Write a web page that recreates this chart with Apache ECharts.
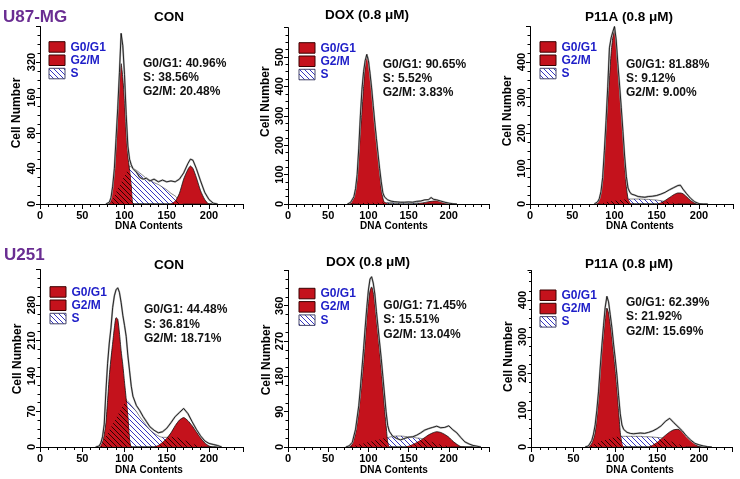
<!DOCTYPE html>
<html><head><meta charset="utf-8">
<script src="https://cdn.jsdelivr.net/npm/echarts@6/dist/echarts.min.js"></script>
<style>html,body{margin:0;padding:0;background:#fff}#c{width:740px;height:479px}</style>
</head><body><div id="c"></div>
<script>
// ---------- DATA ----------
const cellLines = ['U87-MG', 'U251'];
const treatments = ['CON', 'DOX (0.8 \u03bcM)', 'P11A (0.8 \u03bcM)'];
const phaseNames = ['G0/G1', 'G2/M', 'S'];
// percentages [G0/G1, S, G2/M]
const statsU87 = [[40.96, 38.56, 20.48], [90.65, 5.52, 3.83], [81.88, 9.12, 9.00]];
const statsU251 = [[44.48, 36.81, 18.71], [71.45, 15.51, 13.04], [62.39, 21.92, 15.69]];
const xTicks = [0, 50, 100, 150, 200];
const yTicksU87Con = ['0', '40', '80', '160', '320'];

// U87-MG CON
const xs1 = [78,82,84,86,88,90,92,94,96,98,100,102,104,106,108,110,114,118,122,126,130,135,140,145,150,155,160,165,170,175,178,181,185,190,195,200,205,210];
const g1_1 = [0,0,6,18,34,58,110,210,310,235,150,80,52,38,20,0, 0,0,0,0,0,0,0,0,0,0,0,0,0,0,0,0,0,0,0,0,0,0];
const s_1  = [0,0,2,5,9,13,17,20,24,28,31,35,38,42,41,40, 38,35,32,29,27,24,22,19,16,12,9,4, 0,0,0,0,0,0,0,0,0,0];
const g2_1 = [0,0,0,0,0,0,0,0,0,0,0,0,0,0,0,0,0,0,0,0,0,0,0,0,0, 0,3,12,28,39,42,40,30,15,5,0,0,0];
const raw_1 = [0,2,7,20,40,72,130,260,560,440,250,115,62,48,43,40, 36,30,28,29,26,28,25,27,25,26,25,28, 35,44,48,47,40,26,13,5,1,0];

// U87-MG DOX
const xs2 = [74,78,82,84,86,88,90,92,94,96,98,100,102,104,106,108,110,112,114,116,118,120,124,128,132,136,140,145,150,155,160,165,170,175,178,181,185,190,195,200,205,210];
const g1_2 = [0,4,20,45,80,155,245,320,400,470,510,490,440,388,330,272,218,162,108,50,20,5, 0,0,0,0,0,0,0,0,0,0,0,0,0,0,0,0,0,0,0,0];
const s_2  = [0,0,1,1,2,2,3,3,3,3,4,4,4,4,4,4,4,4,5,5,5,5, 5,5,5,5,5,5,5,4,4,3,2,1,1, 0,0,0,0,0,0,0];
const g2_2 = [0,0,0,0,0,0,0,0,0,0,0,0,0,0,0,0,0,0,0,0,0,0,0,0,0,0,0,0,0,0, 0,2,5,8,9,10,11,8,5,2,0,0];
const raw_2 = [0,6,25,52,100,190,300,390,450,488,508,488,445,395,335,276,222,170,120,75,38,24, 14,10,8,7,6,6,7,6,9,10,14,15,22, 16,14,10,6,3,1,0];

// U87-MG P11A
const xs3 = [76,80,82,84,86,88,90,92,94,96,98,100,102,104,106,108,110,112,114,116,118,120,124,128,132,136,140,145,150,155,160,165,170,175,178,181,185,190,195,200,205,210];
const g1_3 = [0,5,12,30,65,130,205,285,355,425,470,490,450,378,320,258,190,115,50,15,4,0, 0,0,0,0,0,0,0,0,0,0,0,0,0,0,0,0,0,0,0,0];
const s_3  = [0,0,1,2,3,4,5,6,7,8,8,9,10,11,11,12,12,13,13,14,14,14, 14,14,14,13,13,12,11,9,7,5,3,1,0, 0,0,0,0,0,0,0];
const g2_3 = [0,0,0,0,0,0,0,0,0,0,0,0,0,0,0,0,0,0,0,0,0,0,0,0,0,0,0,0, 0,3,10,18,26,31,31,29,21,10,3,0,0,0];
const raw_3 = [0,6,15,35,75,150,235,330,440,468,485,500,462,395,335,272,205,135,78,45,34,28, 25,21,20,19,21,22,24,28,33,40,46,52,53, 42,30,16,6,1,0,0];

// U251 CON
const xs4 = [66,70,72,74,76,78,80,82,84,86,88,90,92,94,96,98,100,102,104,106,108,110,114,118,122,126,130,135,140,145,150,155,160,165,170,175,180,185,190,195,200,205,210,215];
const g1_4 = [0,0,3,10,25,48,92,140,175,205,235,255,252,225,190,162,128,95,60,15,0,0, 0,0,0,0,0,0,0,0,0,0,0,0,0,0,0,0,0,0,0,0,0,0];
const s_4  = [0,0,3,9,15,21,27,33,39,45,51,57,63,69,75,81,87,93,90,86,82,78, 70,60,51,42,34,27,22,19,19,20,20,17,14,11,7,4,2, 0,0,0,0,0];
const g2_4 = [0,0,0,0,0,0,0,0,0,0,0,0,0,0,0,0,0,0,0,0,0,0,0,0,0,0,0, 0,3,9,17,28,42,53,58,52,42,30,18,8,2,0,0,0];
const raw_4 = [0,2,8,20,45,110,165,205,235,275,298,310,314,305,285,260,240,218,180,150,120,100, 82,72,60,50,40,33,28,30,37,48,60,68,76,66,50,35,22, 12,7,5,3,0];

// U251 DOX
const xs5 = [72,76,80,84,88,90,92,94,96,98,100,102,104,106,108,110,112,114,116,118,120,122,124,126,130,135,140,145,150,155,160,165,170,175,180,185,190,195,200,205,210,215,220,225,230,235,240];
const g1_5 = [0,0,8,35,90,130,170,215,270,330,370,398,408,395,365,324,285,245,200,150,100,55,12,0, 0,0,0,0,0,0,0,0,0,0,0,0,0,0,0,0,0,0,0,0,0,0,0];
const s_5  = [0,0,2,4,6,7,8,9,10,11,12,13,14,15,16,17,18,19,20,21,22,23,24,25, 27,28,28,27,26,25,23,22,19,16,12,9,6,4,2,0, 0,0,0,0,0,0,0];
const g2_5 = [0,0,0,0,0,0,0,0,0,0,0,0,0,0,0,0,0,0,0,0,0,0,0,0,0,0,0, 0,2,6,11,17,24,31,36,39,37,32,25,15,7,1,0,0,0,0,0];
const raw_5 = [0,3,12,45,105,150,200,250,305,355,400,428,434,418,390,345,305,265,225,180,135,90,55,40, 28,22,18,22,25,26,30,36,43,47,50,53,49,50,54,44, 36,24,13,8,4,2,0];

// U251 P11A
const xs6 = [64,68,70,72,74,76,78,80,82,84,86,88,90,92,94,96,98,100,102,104,106,108,110,114,118,122,126,130,135,140,145,150,155,160,165,170,175,180,185,190,195,200,205,210,215];
const g1_6 = [0,0,4,10,22,40,80,130,200,260,305,350,378,365,335,300,255,210,160,100,40,8,0, 0,0,0,0,0,0,0,0,0,0,0,0,0,0,0,0,0,0,0,0,0,0];
const s_6  = [0,0,2,4,6,8,10,12,14,16,18,19,20,22,23,25,26,27,28,28,29,29,29, 29,29,29,29,29,28,28,27,26,25,22,17,12,8,4,1, 0,0,0,0,0,0];
const g2_6 = [0,0,0,0,0,0,0,0,0,0,0,0,0,0,0,0,0,0,0,0,0,0,0,0,0,0,0,0,0, 0,5,12,22,32,41,47,48,42,30,20,8,1,0,0,0];
const raw_6 = [0,3,8,18,35,60,100,150,215,275,330,380,410,395,360,325,280,240,195,140,90,60,48, 40,37,36,37,38,37,40,44,50,58,70,78,66,55,44,30, 19,10,6,3,1,0];

// ---------- LAYOUT / STYLE ----------
const FONT = '"Liberation Sans", Arial, Helvetica, sans-serif';
const RED = '#c4121c';
const panels = [
  {xs:xs1,g1:g1_1,g2:g2_1,s:s_1,raw:raw_1},
  {xs:xs2,g1:g1_2,g2:g2_2,s:s_2,raw:raw_2},
  {xs:xs3,g1:g1_3,g2:g2_3,s:s_3,raw:raw_3},
  {xs:xs4,g1:g1_4,g2:g2_4,s:s_4,raw:raw_4},
  {xs:xs5,g1:g1_5,g2:g2_5,s:s_5,raw:raw_5},
  {xs:xs6,g1:g1_6,g2:g2_6,s:s_6,raw:raw_6}
];
const grids = [
  {left:40, top:26.5, width:202.8, height:177.5},
  {left:288, top:27.6, width:201, height:176.4},
  {left:530, top:26.5, width:202.8, height:177.5},
  {left:40, top:269.5, width:202.8, height:177.5},
  {left:288, top:270.4, width:201, height:176.6},
  {left:531.5, top:270.6, width:201, height:176.4}
];
const xMax = [240,250,240,240,250,240];
const yMax = [5,600,500,350,450,480];
const yInt = [1,100,100,70,90,100];
const yLastLabel = [4,500,400,280,360,400];

// U87 CON axis: 0-40 linear, then doubling per tick
function tfQuasiLog(v){ return v <= 40 ? v/40 : 1 + Math.log2(v/40); }
function tfId(v){ return v; }
const tfs = [tfQuasiLog, tfId, tfId, tfId, tfId, tfId];

function hatch(bg, fg, lw){
  const c = document.createElement('canvas'); c.width = 5; c.height = 5;
  const g = c.getContext('2d');
  if (bg){ g.fillStyle = bg; g.fillRect(0,0,5,5); }
  g.strokeStyle = fg; g.lineWidth = lw; g.beginPath();
  for (const k of [-5,0,5]){ g.moveTo(k,0); g.lineTo(k+5,5); }
  g.stroke();
  return c;
}
const blueHatch = {image: hatch('#ffffff', '#3838c0', 1), repeat: 'repeat'};
const redHatch = {image: hatch(RED, '#1a0000', 0.9), repeat: 'repeat'};

const series = [];
panels.forEach((p, i) => {
  const tf = tfs[i];
  const pts = arr => p.xs.map((x, j) => [x, tf(arr[j])]);
  const ov1 = p.xs.map((x, j) => [x, tf(Math.min(p.s[j], p.g1[j]))]);
  const ov2 = p.xs.map((x, j) => [x, tf(Math.min(p.s[j], p.g2[j]))]);
  const base = {type:'line', xAxisIndex:i, yAxisIndex:i, showSymbol:false, symbol:'none', silent:true, animation:false, smooth:0.2};
  series.push(Object.assign({}, base, {name:'S', data:pts(p.s), z:2, lineStyle:{color:'#333', width:0.6}, areaStyle:{color:blueHatch, opacity:1}}));
  series.push(Object.assign({}, base, {name:'G0/G1', data:pts(p.g1), z:3, lineStyle:{color:'#111', width:0.8}, areaStyle:{color:RED, opacity:1}}));
  series.push(Object.assign({}, base, {name:'G2/M', data:pts(p.g2), z:3, lineStyle:{color:'#111', width:0.8}, areaStyle:{color:RED, opacity:1}}));
  series.push(Object.assign({}, base, {name:'S in G0/G1', data:ov1, z:4, lineStyle:{opacity:0}, areaStyle:{color:redHatch, opacity:1}}));
  series.push(Object.assign({}, base, {name:'S in G2/M', data:ov2, z:4, lineStyle:{opacity:0}, areaStyle:{color:redHatch, opacity:1}}));
  series.push(Object.assign({}, base, {name:'data', smooth:false, data:pts(p.raw), z:5, lineStyle:{color:'#b2b2b2', width:1.9}}));
  series.push(Object.assign({}, base, {name:'data', smooth:false, data:pts(p.raw), z:6, lineStyle:{color:'#000', width:0.8}}));
});

const axisCommon = {
  axisLine:{show:true, onZero:false, lineStyle:{color:'#000', width:1}},
  splitLine:{show:false}, minorSplitLine:{show:false}, z:10
};
const xAxes = grids.map((g, i) => Object.assign({}, axisCommon, {
  gridIndex:i, type:'value', min:0, max:xMax[i], interval:50,
  axisTick:{show:true, length:5, lineStyle:{color:'#000'}},
  minorTick:{show:true, splitNumber:5, length:3, lineStyle:{color:'#000'}},
  axisLabel:{show:true, margin:6, color:'#000', fontSize:11, fontWeight:'bold', fontFamily:FONT,
    formatter: v => xTicks.indexOf(v) >= 0 ? String(v) : ''}
}));
const yAxes = grids.map((g, i) => Object.assign({}, axisCommon, {
  gridIndex:i, type:'value', min:0, max:yMax[i], interval:yInt[i],
  axisTick:{show:true, length:4, lineStyle:{color:'#000'}},
  minorTick:{show:true, splitNumber:4, length:2.5, lineStyle:{color:'#000'}},
  axisLabel:{show:true, rotate:90, margin:3, color:'#000', fontSize:11, fontWeight:'bold', fontFamily:FONT,
    formatter: v => {
      if (i === 0) return yTicksU87Con[Math.round(v)] || '';
      return v <= yLastLabel[i] ? String(v) : '';
    }}
}));

// ---------- TEXT / LEGEND GRAPHICS ----------
const els = [];
function txt(x, y, text, size, weight, fill, align, rot){
  els.push({type:'text', x:x, y:y, rotation:rot||0, silent:true, z:100,
    style:{text:text, fill:fill, fontSize:size, fontWeight:weight, fontFamily:FONT,
      align:align||'left', textAlign:align||'left', verticalAlign:'middle', textVerticalAlign:'middle'}});
}
txt(3, 17, cellLines[0], 17, 'bold', '#6a2d92', 'left');
txt(4, 255, cellLines[1], 17, 'bold', '#6a2d92', 'left');

const titlePos = [[169,17],[367,15.5],[629,17],[169,265],[368,262],[629,264]];
const statPos = [[143,63.3],[382.7,64.3],[626,64.3],[144,310],[383.3,305.7],[626,302.7]];
const legPos = [[49,41.7],[299,42.7],[540,41.7],[50,286.7],[299,288.3],[540,290]];
const cellNumPos = [[17,113],[265.7,101.7],[508,111],[18,359],[266.7,360],[509,356.7]];
const dnaPos = [[149,226.5],[394,226.5],[640,226.5],[149,470],[394,470],[640,470]];
const allStats = statsU87.concat(statsU251);

for (let i = 0; i < 6; i++){
  txt(titlePos[i][0], titlePos[i][1], treatments[i % 3], 13.5, 'bold', '#000', 'center');
  const st = allStats[i];
  const lines = ['G0/G1: ' + st[0].toFixed(2) + '%', 'S: ' + st[1].toFixed(2) + '%', 'G2/M: ' + st[2].toFixed(2) + '%'];
  lines.forEach((l, k) => txt(statPos[i][0], statPos[i][1] + k*14.3, l, 12, 'bold', '#111', 'left'));
  const fills = [RED, RED, blueHatch];
  phaseNames.forEach((nm, k) => {
    const bx = legPos[i][0], by = legPos[i][1] + k*13.3;
    els.push({type:'rect', silent:true, z:100, shape:{x:bx, y:by, width:16, height:10.5},
      style:{fill:fills[k], stroke: k === 2 ? '#44446a' : '#3a0000', lineWidth:1}});
    txt(bx + 21.5, by + 5.5, nm, 12, 'bold', '#1e1ec8', 'left');
  });
  txt(cellNumPos[i][0], cellNumPos[i][1], 'Cell Number', 12, 'bold', '#000', 'center', Math.PI/2);
  txt(dnaPos[i][0], dnaPos[i][1], 'DNA Contents', 10, 'bold', '#000', 'center');
}

const chart = echarts.init(document.getElementById('c'), null, {renderer:'canvas', width:740, height:479});
chart.setOption({
  backgroundColor:'#fff',
  animation:false,
  grid: grids.map(g => Object.assign({containLabel:false, show:false}, g)),
  xAxis: xAxes,
  yAxis: yAxes,
  series: series,
  graphic: {elements: els}
});
</script>
</body></html>
